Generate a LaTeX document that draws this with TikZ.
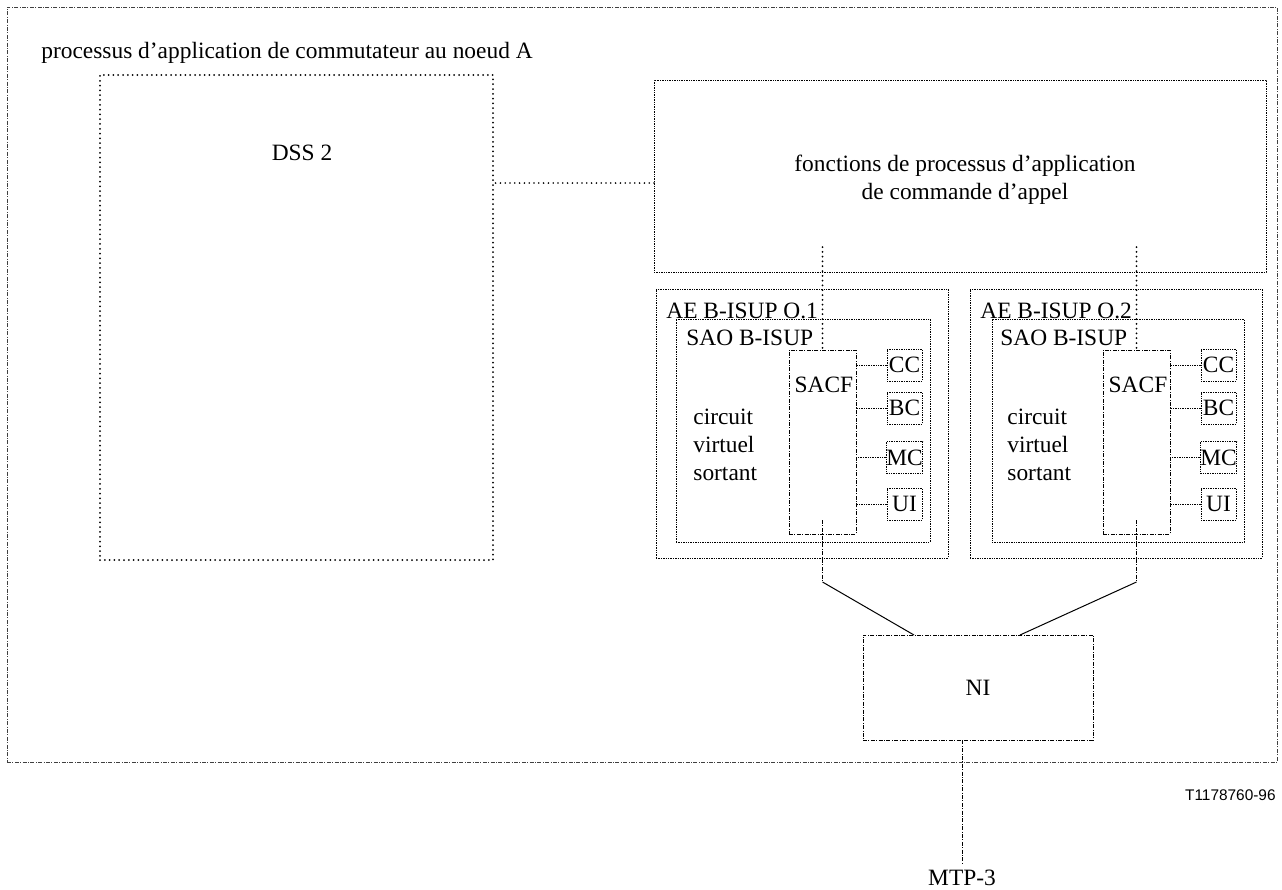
\documentclass[tikz,border=0pt]{standalone}
\usepackage{fontspec}
\setmainfont{Liberation Serif}
\newfontfamily\figfont{Liberation Sans}
\usetikzlibrary{positioning}

\begin{document}
\begin{tikzpicture}[x=0.5pt, y=-0.5pt,
	font=\fontsize{11.7}{14}\selectfont,
	box/.style={draw, rectangle, inner sep=0pt},
	dotline/.style={line width=0.45pt, dash pattern=on 0.7pt off 0.5pt},
	dashdotline/.style={line width=0.45pt, dash pattern=on 2pt off 0.7pt on 0.5pt off 0.7pt},
	heavydots/.style={line width=1pt, line cap=round, dash pattern=on 0pt off 2.4pt},
	lbl/.style={anchor=base west, inner sep=0pt}]
	\useasboundingbox (0,0) rectangle (1282,890);
	% outer frame and title
	\node[box, dashdotline, draw=black!75, minimum width=635pt, minimum height=377.5pt] (outer) at (642,384.5) {};
	\node[lbl] (title) at (41,58) {processus d’application de commutateur au noeud A};
	% DSS 2 and call control functions
	\node[box, heavydots, minimum width=196.5pt, minimum height=242.5pt] (dss) at (296.5,317.5) {};
	\node (dsslbl) at (302,153) {DSS 2};
	\node[box, dotline, minimum width=306pt, minimum height=96pt] (fonc) at (960,176) {};
	\node[align=center] (fonclbl) at (965,180) {fonctions de processus d’application\\de commande d’appel};
	\coordinate (d1) at (654,183);
	\draw[heavydots, line width=0.9pt] (d1) -- (d1 -| dss.east);
	% first AE
	\node[box, dotline, minimum width=146pt, minimum height=134.5pt] (ae1) at (802,423.5) {};
	\node[lbl] (ae1lbl) at (666,318) {AE B-ISUP O.1};
	\node[box, dotline, minimum width=127pt, minimum height=111.5pt] (sao1) at (803,430.5) {};
	\node[lbl] (sao1lbl) at (686,345) {SAO B-ISUP};
	\node[box, dashdotline, minimum width=33.5pt, minimum height=92pt] (sacf1) at (822.5,442) {};
	\node[anchor=base, inner sep=0pt] (sacf1lbl) at (824,392) {SACF};
	\node[anchor=west, align=left, inner sep=0pt] (cvs1) at (693,445) {circuit\\virtuel\\sortant};
	\begin{scope}[every node/.style={box, dotline, minimum width=17.5pt, minimum height=16pt}]
		\node (cc1) at (904.5,365) {CC};
		\node (bc1) at (904.5,408) {BC};
		\node (mc1) at (904.5,457.5) {MC};
		\node (ui1) at (904.5,504) {UI};
	\end{scope}
	\draw[dotline] (cc1.west) -- (cc1.west -| sacf1.east);
	\draw[dotline] (bc1.west) -- (bc1.west -| sacf1.east);
	\draw[dotline] (mc1.west) -- (mc1.west -| sacf1.east);
	\draw[dotline] (ui1.west) -- (ui1.west -| sacf1.east);
	% second AE
	\node[box, dotline, minimum width=146pt, minimum height=134.5pt] (ae2) at (1116,423.5) {};
	\node[lbl] (ae2lbl) at (980,318) {AE B-ISUP O.2};
	\node[box, dotline, minimum width=126pt, minimum height=111.5pt] (sao2) at (1118,430.5) {};
	\node[lbl] (sao2lbl) at (1000,345) {SAO B-ISUP};
	\node[box, dashdotline, minimum width=33.5pt, minimum height=92pt] (sacf2) at (1136.5,442) {};
	\node[anchor=base, inner sep=0pt] (sacf2lbl) at (1138,392) {SACF};
	\node[anchor=west, align=left, inner sep=0pt] (cvs2) at (1007,445) {circuit\\virtuel\\sortant};
	\begin{scope}[every node/.style={box, dotline, minimum width=17.5pt, minimum height=16pt}]
		\node (cc2) at (1218.5,365) {CC};
		\node (bc2) at (1218.5,408) {BC};
		\node (mc2) at (1218.5,457.5) {MC};
		\node (ui2) at (1218.5,504) {UI};
	\end{scope}
	\draw[dotline] (cc2.west) -- (cc2.west -| sacf2.east);
	\draw[dotline] (bc2.west) -- (bc2.west -| sacf2.east);
	\draw[dotline] (mc2.west) -- (mc2.west -| sacf2.east);
	\draw[dotline] (ui2.west) -- (ui2.west -| sacf2.east);
	% NI and MTP-3
	\node[box, dashdotline, minimum width=115pt, minimum height=52.5pt] (ni) at (978,687.5) {NI};
	\node (mtp) at (962,878) {MTP-3};
	\draw[dashdotline] (mtp.north |- ni.south) -- (mtp.north);
	\node[anchor=east, inner sep=0pt, font=\figfont\fontsize{7.7}{9}\selectfont] (code) at (1276,795) {T1178760-96};
	% links
	\coordinate (f1) at (822.5,247);
	\coordinate (s1) at (822.5,520);
	\coordinate (k1) at (822.5,582);
	\coordinate (n1) at (914,635);
	\coordinate (f2) at (1136.5,247);
	\coordinate (s2) at (1136.5,520);
	\coordinate (k2) at (1136.5,582);
	\coordinate (n2) at (1020,635);
	\draw[heavydots] (f1) -- (sacf1.north);
	\draw[heavydots] (f2) -- (sacf2.north);
	\draw[dashdotline] (s1) -- (k1);
	\draw[dashdotline] (s2) -- (k2);
	\draw[line width=0.5pt] (k1) -- (n1);
	\draw[line width=0.5pt] (k2) -- (n2);
\end{tikzpicture}
\end{document}
